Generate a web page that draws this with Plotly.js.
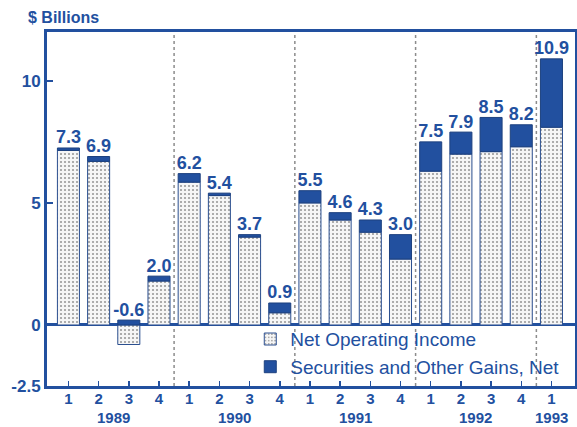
<!DOCTYPE html>
<html>
<head>
<meta charset="utf-8">
<script src="https://cdn.plot.ly/plotly-3.0.1.min.js"></script>
<style>html,body{margin:0;padding:0;background:#fff;}#chart{width:577px;height:427px;}</style>
</head>
<body>
<div id="chart"></div>
<script>
// Quarters 1989Q1 .. 1993Q1
const quarters = ["1","2","3","4","1","2","3","4","1","2","3","4","1","2","3","4","1"];
const years = ["1989","1990","1991","1992","1993"];
const yearPos = [1.5, 5.5, 9.5, 13.5, 16];
const yearBreaks = [3.5, 7.5, 11.5, 15.5];
const netOperatingIncome = [7.15, 6.7, -0.8, 1.8, 5.85, 5.3, 3.6, 0.5, 5.0, 4.3, 3.8, 2.7, 6.3, 7.0, 7.1, 7.3, 8.1];
const securitiesGains   = [0.1, 0.2, 0.2, 0.2, 0.35, 0.1, 0.1, 0.4, 0.5, 0.3, 0.5, 1.0, 1.2, 0.9, 1.4, 0.9, 2.8];
const totalLabels = ["7.3","6.9","-0.6","2.0","6.2","5.4","3.7","0.9","5.5","4.6","4.3","3.0","7.5","7.9","8.5","8.2","10.9"];

const BLUE = "#22509f";
const FONT = "Liberation Sans, Arial, sans-serif";
const idx = quarters.map((q, i) => i);
const labelY = idx.map(i => Math.max(netOperatingIncome[i], 0) + Math.max(securitiesGains[i], 0));

const traces = [
  {
    type: "bar", x: idx, y: netOperatingIncome, name: "Net Operating Income",
    width: 0.73,
    marker: {color: "#f4f4f4", line: {color: "#2b4f8f", width: 1},
             pattern: {shape: ".", fgcolor: "#9a9a9a", bgcolor: "#f6f6f6", size: 4, solidity: 0.22}},
    hoverinfo: "skip"
  },
  {
    type: "bar", x: idx, y: securitiesGains, name: "Securities and Other Gains, Net",
    width: 0.73,
    marker: {color: BLUE, line: {color: "#1d417f", width: 1}},
    hoverinfo: "skip"
  },
  {
    type: "scatter", mode: "text", x: idx, y: labelY, text: totalLabels,
    textposition: "top center", showlegend: false, cliponaxis: false,
    textfont: {family: FONT, size: 18, color: BLUE, weight: "bold"},
    hoverinfo: "skip"
  }
];

const shapes = yearBreaks.map(b => ({
  type: "line", xref: "x", yref: "paper", x0: b, x1: b, y0: 0, y1: 1,
  line: {color: "#8c8c8c", width: 1.5, dash: "dot"}, layer: "below"
}));

const annotations = years.map((yr, i) => ({
  text: yr, x: yearPos[i], xref: "x", y: 0, yref: "paper", yshift: -31,
  showarrow: false, xanchor: "center", yanchor: "middle",
  font: {family: FONT, size: 15, color: BLUE, weight: "bold"}
}));
annotations.push({
  text: "$ Billions", xref: "paper", yref: "paper", x: -0.04, y: 1, yshift: 15,
  xanchor: "left", yanchor: "middle", showarrow: false,
  font: {family: FONT, size: 16, color: BLUE, weight: "bold"}
});

const layout = {
  width: 577, height: 427,
  margin: {l: 47, r: 2, t: 32, b: 41},
  paper_bgcolor: "#fff", plot_bgcolor: "#fff",
  barmode: "relative",
  showlegend: true,
  legend: {x: 0.385, y: 0.186, xanchor: "left", yanchor: "top",
           bgcolor: "rgba(0,0,0,0)", font: {family: FONT, size: 19, color: BLUE},
           tracegroupgap: 0, itemwidth: 30},
  xaxis: {
    range: [-0.71, 16.78], tickvals: idx, ticktext: quarters,
    ticks: "inside", ticklen: 5, tickcolor: BLUE, tickwidth: 1.5,
    showline: true, linecolor: BLUE, linewidth: 3, mirror: true,
    showgrid: false, zeroline: false, ticklabelstandoff: -3,
    tickfont: {family: FONT, size: 15, color: BLUE, weight: "bold"}
  },
  yaxis: {
    range: [-2.5, 12], tickvals: [-2.5, 0, 5, 10], ticktext: ["-2.5", "0", "5", "10"],
    ticks: "inside", ticklen: 6, tickcolor: BLUE, tickwidth: 1.5,
    showline: true, linecolor: BLUE, linewidth: 3, mirror: true,
    showgrid: false, zeroline: true, zerolinecolor: BLUE, zerolinewidth: 3,
    tickfont: {family: FONT, size: 17, color: BLUE, weight: "bold"}
  },
  shapes: shapes,
  annotations: annotations
};

Plotly.newPlot("chart", traces, layout, {displayModeBar: false, staticPlot: true});
</script>
</body>
</html>
